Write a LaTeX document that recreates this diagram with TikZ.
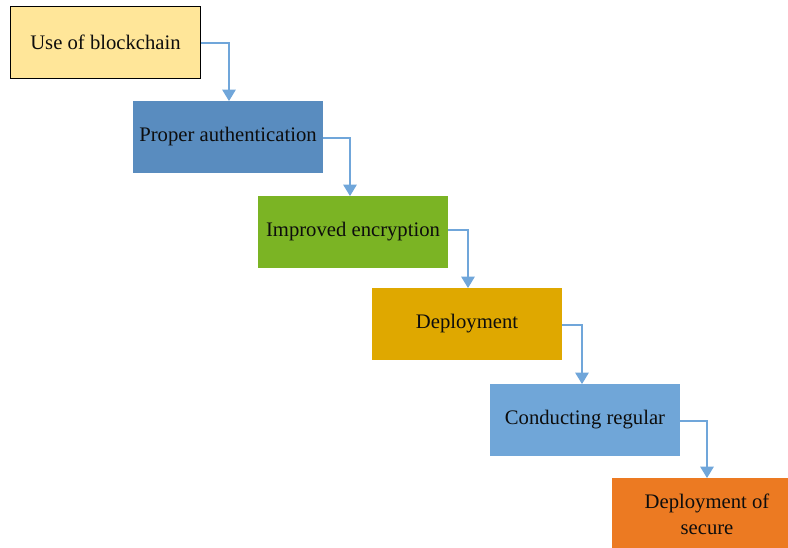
\documentclass[tikz,border=0pt]{standalone}
\usepackage{fontspec}
\setmainfont{Liberation Serif}
\usetikzlibrary{arrows.meta}
\definecolor{c1}{HTML}{FFE699}
\definecolor{c2}{HTML}{598CBF}
\definecolor{c3}{HTML}{7BB424}
\definecolor{c4}{HTML}{DFA800}
\definecolor{c5}{HTML}{70A6D8}
\definecolor{c6}{HTML}{EC7A22}
\definecolor{arr}{HTML}{70A6DA}
\begin{document}
\begin{tikzpicture}[x=0.75pt,y=-0.75pt,
  stepbox/.style={rectangle,minimum width=142.5pt,minimum height=53.5pt,inner sep=0pt,
    font=\fontsize{15.5pt}{19.5pt}\selectfont,align=center,text=black!95},
  conn/.style={draw=arr,line width=1.1pt,-{Triangle[width=10pt,length=8.5pt]}}]
\useasboundingbox (0,0) rectangle (788,548);
\clip (0,0) rectangle (788,548);
\node[stepbox,fill=c1,draw=black,line width=0.9pt] (b1) at (105.5,42.5) {Use of blockchain};
\node[stepbox,fill=c2] (b2) at (228,137) {Proper authentication};
\node[stepbox,fill=c3] (b3) at (353,232) {Improved encryption};
\node[stepbox,fill=c4] (b4) at (467,324) {Deployment};
\node[stepbox,fill=c5] (b5) at (585,420) {Conducting regular};
\node[stepbox,fill=c6] (b6) at (707,514) {Deployment of\\secure};
\coordinate (k1) at (229,43);
\coordinate (k2) at (350,138);
\coordinate (k3) at (468,230);
\coordinate (k4) at (582,325);
\coordinate (k5) at (707,421);
\draw[conn] (b1.east |- k1) -- (k1) -- (k1 |- b2.north);
\draw[conn] (b2.east |- k2) -- (k2) -- (k2 |- b3.north);
\draw[conn] (b3.east |- k3) -- (k3) -- (k3 |- b4.north);
\draw[conn] (b4.east |- k4) -- (k4) -- (k4 |- b5.north);
\draw[conn] (b5.east |- k5) -- (k5) -- (k5 |- b6.north);
\end{tikzpicture}
\end{document}
